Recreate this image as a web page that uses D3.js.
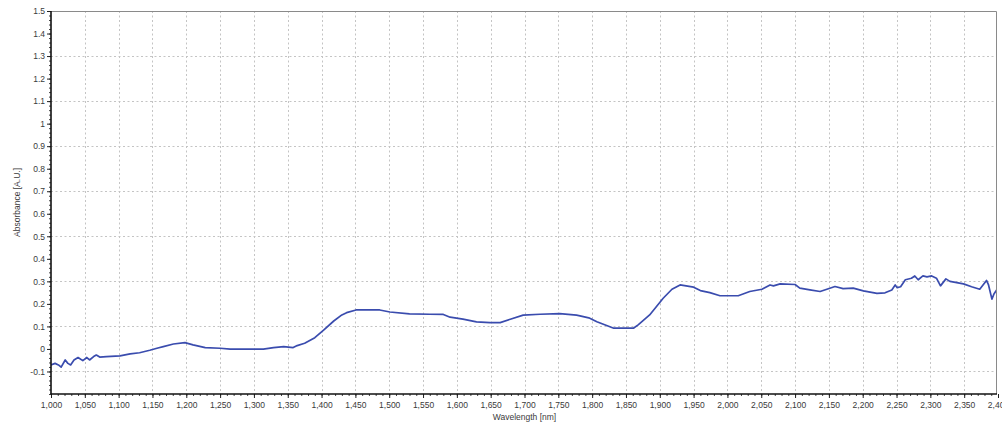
<!DOCTYPE html>
<html>
<head>
<meta charset="utf-8">
<script src="https://cdn.jsdelivr.net/npm/d3@7"></script>
<style>
  html, body { margin: 0; padding: 0; background: #fff; }
  svg { display: block; }
  text { font-family: "Liberation Sans", Arial, sans-serif; fill: #3a3a3a; }
</style>
</head>
<body>
<svg id="chart" width="1002" height="425"></svg>
<script>
// Absorbance spectrum, wavelength in nm
const wavelength = [
  1000, 1006, 1011, 1015, 1021, 1025, 1029, 1034, 1040, 1047, 1053, 1057, 1063, 1067, 1072, 1082,
  1102, 1117, 1131, 1146, 1158, 1166, 1181, 1198, 1210, 1228, 1250, 1265, 1314, 1329, 1344, 1358,
  1364, 1375, 1390, 1403, 1418, 1430, 1437, 1451, 1486, 1501, 1530, 1560, 1580, 1590, 1609, 1629,
  1649, 1664, 1679, 1698, 1723, 1752, 1777, 1782, 1795, 1807, 1832, 1861, 1868, 1885, 1905, 1918,
  1930, 1950, 1960, 1974, 1989, 2016, 2033, 2051, 2063, 2068, 2078, 2100, 2107, 2122, 2137, 2147,
  2159, 2171, 2186, 2201, 2221, 2233, 2243, 2248, 2251, 2256, 2263, 2272, 2277, 2282, 2289, 2295,
  2302, 2309, 2315, 2323, 2329, 2349, 2361, 2373, 2383, 2386, 2391, 2394, 2398
];
const absorbance = [
  -0.071, -0.064, -0.071, -0.081, -0.049, -0.064, -0.071, -0.049, -0.038, -0.052, -0.038, -0.049, -0.034, -0.027, -0.036, -0.034,
  -0.031, -0.022, -0.017, -0.006, 0.004, 0.010, 0.022, 0.028, 0.018, 0.006, 0.003, -0.001, -0.001, 0.006, 0.010, 0.006,
  0.015, 0.025, 0.050, 0.084, 0.124, 0.151, 0.161, 0.173, 0.173, 0.164, 0.156, 0.154, 0.153, 0.141, 0.132, 0.120,
  0.117, 0.117, 0.132, 0.150, 0.154, 0.157, 0.150, 0.147, 0.138, 0.121, 0.092, 0.092, 0.107, 0.151, 0.225, 0.265,
  0.284, 0.274, 0.259, 0.250, 0.236, 0.236, 0.255, 0.265, 0.284, 0.280, 0.289, 0.286, 0.270, 0.262, 0.255, 0.265,
  0.277, 0.268, 0.270, 0.258, 0.247, 0.249, 0.262, 0.284, 0.272, 0.276, 0.307, 0.314, 0.324, 0.307, 0.324, 0.320,
  0.324, 0.314, 0.280, 0.311, 0.300, 0.289, 0.276, 0.265, 0.304, 0.284, 0.221, 0.244, 0.262
];

// Tick values
const xTicks = d3.range(1000, 2401, 50);
const xMinorTicks = d3.range(1000, 2401, 10);
const yTicks = d3.range(-1, 16).map(i => i / 10);
const yMinorTicks = d3.range(-10, 76).map(i => i / 50);
const yGridValues = [-0.1, 0.1, 0.3, 0.5, 0.7, 0.9, 1.1, 1.3];

const xTitle = "Wavelength [nm]";
const yTitle = "Absorbance [A.U.]";

const svg = d3.select("#chart");
const plotL = 51, plotR = 998, plotT = 11, plotB = 394, frameR = 996;

const x = d3.scaleLinear().domain([1000, 2400]).range([plotL, plotR]);
const y = d3.scaleLinear().domain([-0.2, 1.5]).range([plotB, plotT]);

const fmtX = d3.format(",");
const fmtY = v => String(+v.toFixed(1));

// Dashed grid
const grid = svg.append("g").attr("stroke", "#c4c4c4").attr("stroke-width", 1)
  .attr("stroke-dasharray", "2,2.5");
grid.selectAll("line.v").data(xTicks.slice(1, -1)).join("line")
  .attr("x1", d => Math.round(x(d)) + 0.5).attr("x2", d => Math.round(x(d)) + 0.5)
  .attr("y1", plotT).attr("y2", plotB);
grid.selectAll("line.h").data(yGridValues).join("line")
  .attr("y1", d => Math.round(y(d)) + 0.5).attr("y2", d => Math.round(y(d)) + 0.5)
  .attr("x1", plotL).attr("x2", frameR);

// Frame: top and right edges
svg.append("path")
  .attr("d", `M${plotL},${plotT + 0.5}H${frameR + 0.5}V${plotB}`)
  .attr("fill", "none").attr("stroke", "#8a8a8a").attr("stroke-width", 1);

// Spectrum line
const clipId = "plot-clip";
svg.append("clipPath").attr("id", clipId).append("rect")
  .attr("x", plotL).attr("y", plotT).attr("width", frameR - plotL).attr("height", plotB - plotT);

const line = d3.line().x((d, i) => x(wavelength[i])).y(d => y(d));
svg.append("path")
  .attr("clip-path", `url(#${clipId})`)
  .attr("d", line(absorbance))
  .attr("fill", "none")
  .attr("stroke", "#3a4cae")
  .attr("stroke-width", 1.7)
  .attr("stroke-linejoin", "round");

// X axis
const xAxis = svg.append("g").attr("transform", `translate(0,${plotB})`);
xAxis.call(d3.axisBottom(x).tickValues(xMinorTicks).tickSize(2).tickFormat(""))
  .call(g => g.select(".domain").remove())
  .call(g => g.selectAll("line").attr("stroke", "#444"));
xAxis.append("g").call(d3.axisBottom(x).tickValues(xTicks).tickSize(4).tickFormat(fmtX).tickPadding(4))
  .call(g => g.select(".domain").remove())
  .call(g => g.selectAll("line").attr("stroke", "#222"))
  .call(g => g.selectAll("text").attr("font-size", "8.5px").attr("fill", "#3a3a3a")
    .attr("font-family", "Liberation Sans, Arial, sans-serif"));
svg.append("line").attr("x1", plotL - 0.5).attr("x2", frameR + 1)
  .attr("y1", plotB).attr("y2", plotB).attr("stroke", "#111").attr("stroke-width", 1.6);

// Y axis
const yAxis = svg.append("g").attr("transform", `translate(${plotL},0)`);
yAxis.call(d3.axisLeft(y).tickValues(yMinorTicks).tickSize(2).tickFormat(""))
  .call(g => g.select(".domain").remove())
  .call(g => g.selectAll("line").attr("stroke", "#444"));
yAxis.append("g").call(d3.axisLeft(y).tickValues(yTicks).tickSize(4).tickFormat(fmtY).tickPadding(2))
  .call(g => g.select(".domain").remove())
  .call(g => g.selectAll("line").attr("stroke", "#222"))
  .call(g => g.selectAll("text").attr("font-size", "8.5px").attr("fill", "#3a3a3a")
    .attr("font-family", "Liberation Sans, Arial, sans-serif"));
svg.append("line").attr("x1", plotL).attr("x2", plotL)
  .attr("y1", plotT).attr("y2", plotB + 0.5).attr("stroke", "#111").attr("stroke-width", 1.6);

// Axis titles
svg.append("text")
  .attr("x", (plotL + plotR) / 2).attr("y", 420)
  .attr("text-anchor", "middle").attr("font-size", "8.5px")
  .text(xTitle);
svg.append("text")
  .attr("transform", `translate(20,${(plotT + plotB) / 2}) rotate(-90)`)
  .attr("text-anchor", "middle").attr("font-size", "8.5px")
  .text(yTitle);
</script>
</body>
</html>
